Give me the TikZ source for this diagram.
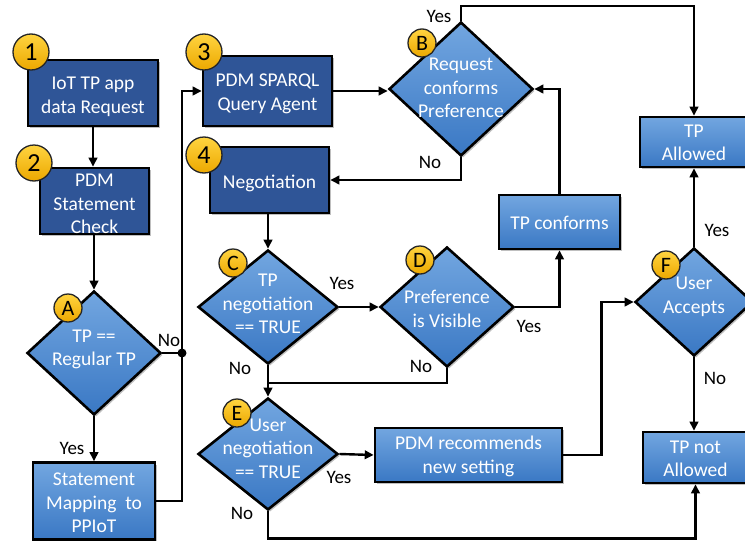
\documentclass[tikz,border=0pt]{standalone}
\usepackage{fontspec}
\setmainfont{Carlito}
\usetikzlibrary{shapes.geometric,arrows.meta,shadows}

\definecolor{navybox}{RGB}{47,85,151}
\definecolor{skytop}{RGB}{114,166,224}
\definecolor{skybot}{RGB}{58,120,196}
\definecolor{badgetop}{RGB}{255,212,64}
\definecolor{badgebot}{RGB}{236,168,0}

\begin{document}
\begin{tikzpicture}[x=1pt,y=-1pt,
  every node/.style={font=\fontsize{19.5}{23.5}\selectfont},
  softshadow/.style={drop shadow={shadow xshift=2pt,shadow yshift=-2pt,opacity=0.25,fill=black}},
  navy/.style={rectangle, draw=black, line width=2.6pt, fill=navybox, inner sep=0pt, softshadow},
  sky/.style={rectangle, draw=black, line width=2.6pt, top color=skytop, bottom color=skybot,
    inner sep=0pt, softshadow},
  dia/.style={diamond, draw=black, line width=2.6pt, top color=skytop, bottom color=skybot,
    inner sep=0pt, softshadow},
  intext/.style={text=white, align=center},
  badge/.style={circle, draw=black!85, line width=1.3pt, top color=badgetop, bottom color=badgebot,
    inner sep=0pt, minimum size=36pt, font=\fontsize{26}{26}\selectfont},
  minibadge/.style={badge, minimum size=28pt, font=\fontsize{22}{22}\selectfont},
  lab/.style={font=\fontsize{19}{21}\selectfont, text=black, inner sep=0pt},
  link/.style={line width=2.4pt},
  arr/.style={link, -{Triangle[length=9pt,width=8.5pt]}},
]
\useasboundingbox (0,0) rectangle (745,541);

% ---- process boxes ----
\node[navy, minimum width=130pt, minimum height=66pt,
  label={[intext,yshift=-4pt]center:IoT TP app\\data Request}] (req) at (93,93) {};
\node[navy, minimum width=109pt, minimum height=66pt,
  label={[intext,yshift=-3pt]center:PDM\\Statement\\Check}] (chk) at (94.5,201) {};
\node[sky, minimum width=122pt, minimum height=77pt,
  label={[intext,yshift=-2pt]center:Statement\\Mapping\ \ to\\PPIoT}] (map) at (94,501) {};
\node[navy, minimum width=129pt, minimum height=70pt,
  label={[intext,yshift=-3pt]center:PDM SPARQL\\Query Agent}] (qry) at (267.5,91) {};
\node[navy, minimum width=119pt, minimum height=66pt,
  label={[intext,yshift=-3pt]center:Negotiation}] (neg) at (269.5,180) {};
\node[sky, minimum width=121pt, minimum height=54pt,
  label={[intext,yshift=-1pt]center:TP conforms}] (conf) at (559.5,222) {};
\node[sky, minimum width=187pt, minimum height=54pt,
  label={[intext,yshift=-1.5pt]center:PDM recommends\\new setting}] (rec) at (468.5,455) {};
\node[sky, minimum width=108pt, minimum height=50pt,
  label={[intext,yshift=-1pt]center:TP\\Allowed}] (allow) at (694,142) {};
\node[sky, minimum width=105pt, minimum height=51pt,
  label={[intext,yshift=-1.5pt]center:TP not\\Allowed}] (deny) at (695.5,457.5) {};

% ---- decisions ----
\node[dia, minimum width=134pt, minimum height=124pt,
  label={[intext,yshift=3.5pt]center:TP ==\\Regular TP}] (A) at (94,353) {};
\node[dia, minimum width=144pt, minimum height=134pt,
  label={[intext,yshift=1pt]center:Request\\conforms\\Preference}] (B) at (461,89) {};
\node[dia, minimum width=140pt, minimum height=114pt,
  label={[intext,yshift=3pt]center:TP\\negotiation\\== TRUE}] (C) at (268,307) {};
\node[dia, minimum width=134pt, minimum height=120pt,
  label={[intext,yshift=-2pt]center:Preference\\is Visible}] (D) at (447,307) {};
\node[dia, minimum width=140pt, minimum height=112pt,
  label={[intext,yshift=5.5pt]center:User\\negotiation\\== TRUE}] (E) at (268,454) {};
\node[dia, minimum width=118pt, minimum height=108pt,
  label={[intext,yshift=5pt]center:User\\Accepts}] (F) at (694,302) {};

% ---- junctions ----
\coordinate (J) at (182,353);
\coordinate (M) at (268,383);
\fill (J) circle (4.5pt);

% ---- connectors ----
\draw[arr] (req.south) -- (req.south |- chk.north);
\draw[arr] (chk.south) -- (chk.south -| A.north) -- (A.north);
\draw[arr] (A.south) -- (map.north);
\draw[link] (A.east) -- (J);
\draw[arr] (map.east) -| (J) |- (qry.west);
\draw[arr] (qry.east) -- (qry.east -| B.west);
\draw[arr] (B.north) -- ++(0,-15) -| (allow.north);
\draw[arr] (B.south) |- (neg.east);
\draw[arr] (neg.south -| C.north) -- (C.north);
\draw[arr] (C.east) -- (D.west);
\draw[arr] (D.east) -| (conf.south);
\draw[arr] (conf.north) |- (B.east);
\draw[arr] (C.south) -- (E.north);
\draw[link] (D.south) |- (M);
\draw[arr] (E.east) -- (rec.west);
\draw[arr] (rec.east) -- ++(38,0) |- (F.west);
\draw[arr] (F.north) -- (F.north |- allow.south);
\draw[arr] (F.south) -- (F.south |- deny.north);
\draw[arr] (E.south) -- ++(0,27) -| (deny.south);

% ---- branch labels ----
\node[lab] (noA) at (169,340) {No};
\node[lab] (yesA) at (72,448) {Yes};
\node[lab] (yesB) at (439,16) {Yes};
\node[lab] (noB) at (430,162) {No};
\node[lab] (yesC) at (342,283) {Yes};
\node[lab] (noC) at (240,368) {No};
\node[lab] (noD) at (421,366) {No};
\node[lab] (yesD) at (529,326) {Yes};
\node[lab] (yesE) at (339,477) {Yes};
\node[lab] (noE) at (242,513) {No};
\node[lab] (yesF) at (717,230) {Yes};
\node[lab] (noF) at (715,378) {No};

% ---- step badges ----
\node[badge] (n1) at (31,52) {1};
\node[badge] (n2) at (34,163) {2};
\node[badge] (n3) at (204,52) {3};
\node[badge] (n4) at (204,155) {4};
\node[minibadge] (nA) at (68,308) {A};
\node[minibadge] (nB) at (422,43) {B};
\node[minibadge] (nC) at (233,263) {C};
\node[minibadge] (nD) at (420,260) {D};
\node[minibadge] (nE) at (237,413) {E};
\node[minibadge] (nF) at (666,265) {F};
\end{tikzpicture}
\end{document}
